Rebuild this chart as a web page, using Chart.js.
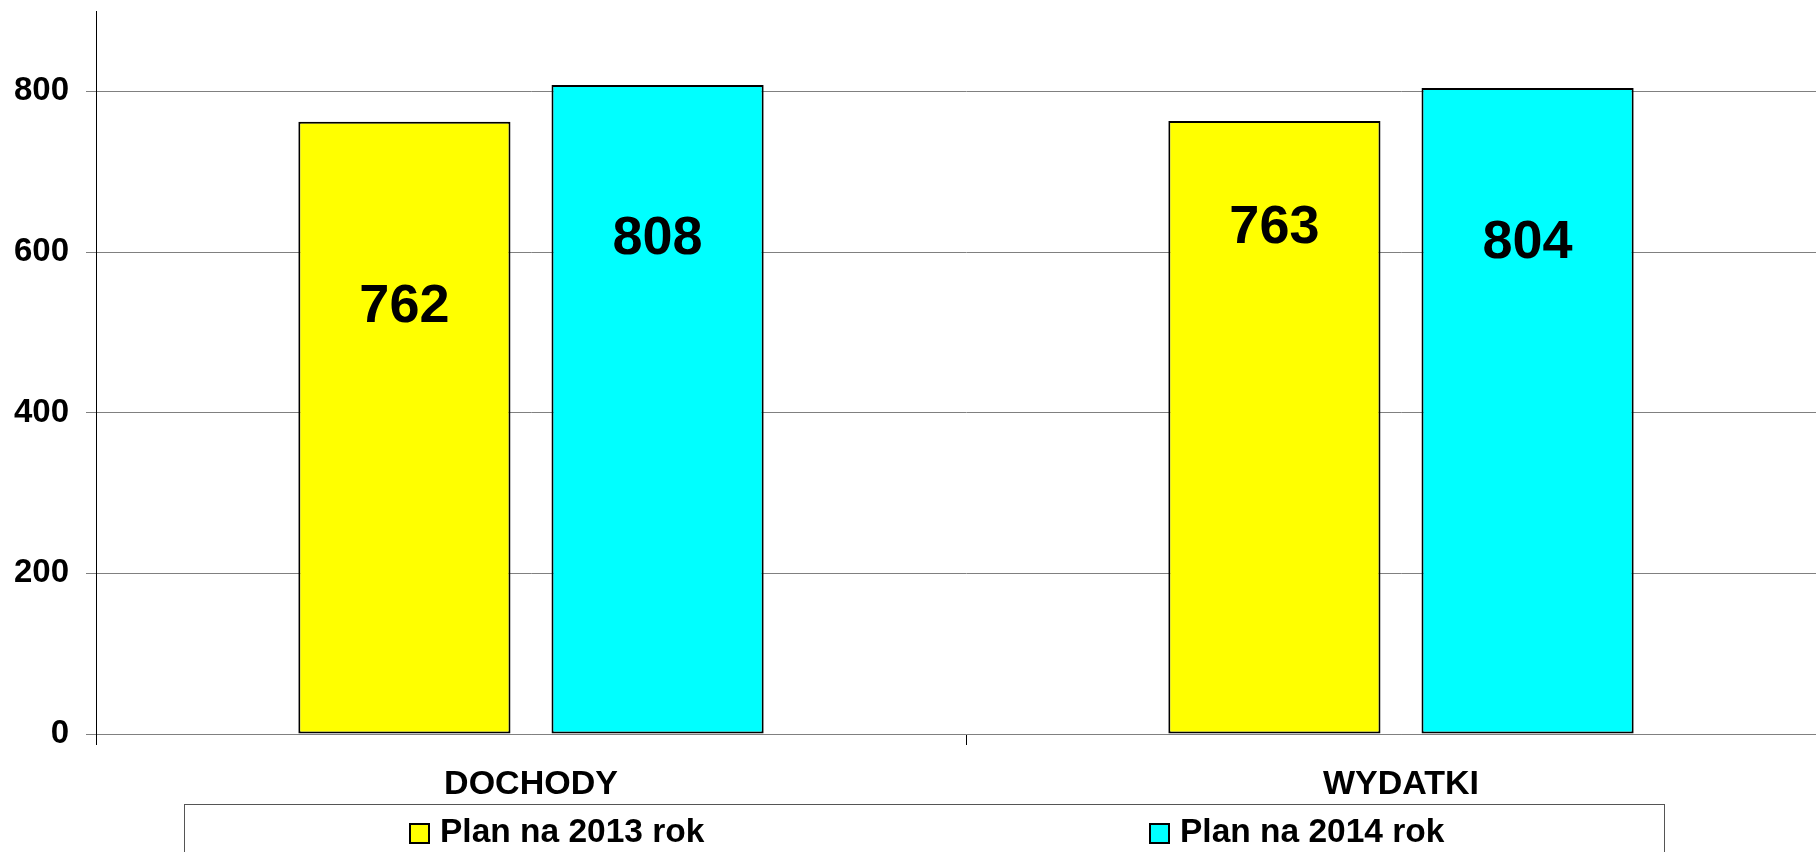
<!DOCTYPE html>
<html>
<head>
<meta charset="utf-8">
<title>Plan 2013 / 2014</title>
<script src="https://cdn.jsdelivr.net/npm/chart.js@4"></script>
<style>
  html, body { margin: 0; padding: 0; background: #fff; overflow: hidden; }
  /* obszar wykresu wychodzi troche poza prawa krawedz, jak w oryginale */
  #ramka { width: 1816px; height: 852px; overflow: hidden; }
  canvas { display: block; }
</style>
</head>
<body>
<div id="ramka"><canvas id="myChart" width="1836" height="852"></canvas></div>
<script>
// Dane wykresu
const kategorie  = ["DOCHODY", "WYDATKI"];
const serie      = ["Plan na 2013 rok", "Plan na 2014 rok"];
const plan2013   = [762, 763];
const plan2014   = [808, 804];
const yTicks     = [0, 200, 400, 600, 800];
const yMax       = 900;

// kolory serii
const kolory = ["#ffff00", "#00ffff"];

// gdzie stoja etykiety wartosci (w jednostkach osi y), tak jak w oryginale
const etykietyNa = [[531, 630], [616, 611]];

Chart.defaults.font.family = "'Liberation Sans', Arial, sans-serif";
Chart.defaults.font.weight = "bold";
Chart.defaults.color = "#000";

// etykiety na slupkach
const wartosciPlugin = {
  id: "wartosci",
  afterDatasetsDraw(chart) {
    const ctx = chart.ctx;
    const y = chart.scales.y;
    ctx.save();
    ctx.font = "bold 54px 'Liberation Sans', Arial, sans-serif";
    ctx.fillStyle = "#000";
    ctx.textAlign = "center";
    ctx.textBaseline = "middle";
    chart.data.datasets.forEach((ds, i) => {
      chart.getDatasetMeta(i).data.forEach((bar, j) => {
        ctx.fillText(String(ds.data[j]), bar.x, y.getPixelForValue(etykietyNa[i][j]));
      });
    });
    ctx.restore();
  }
};

// legenda w ramce pod osia
const legendaPlugin = {
  id: "legenda",
  afterDraw(chart) {
    const ctx = chart.ctx;
    const left = 184, right = 1664, top = 804;
    const half = (right - left) / 2;
    ctx.save();
    ctx.strokeStyle = "#555";
    ctx.lineWidth = 1;
    ctx.strokeRect(left + 0.5, top + 0.5, right - left, chart.height);
    ctx.font = "bold 33.5px 'Liberation Sans', Arial, sans-serif";
    ctx.textBaseline = "middle";
    ctx.textAlign = "left";
    chart.data.datasets.forEach((ds, i) => {
      const x = left + half * i + 226;
      const cy = 833;
      ctx.fillStyle = ds.backgroundColor;
      ctx.fillRect(x, cy - 9, 19, 19);
      ctx.strokeStyle = "#000";
      ctx.lineWidth = 2;
      ctx.strokeRect(x, cy - 9, 19, 19);
      ctx.fillStyle = "#000";
      ctx.fillText(ds.label, x + 30, cy);
    });
    ctx.restore();
  }
};

function rysujWykres() {
  const data = {
    labels: kategorie,
    datasets: [
      { label: serie[0], data: plan2013, backgroundColor: kolory[0] },
      { label: serie[1], data: plan2014, backgroundColor: kolory[1] }
    ]
  };
  data.datasets.forEach(ds => {
    ds.borderColor = "#000";
    ds.borderWidth = 2;
    ds.borderSkipped = false;
    ds.categoryPercentage = 0.582;
    ds.barPercentage = 0.838;
  });

  const config = {
    type: "bar",
    data,
    options: {
      responsive: false,
      animation: false,
      devicePixelRatio: 1,
      layout: { padding: { top: 11, left: 0, right: 0, bottom: 0 } },
      plugins: {
        legend: { display: false },
        tooltip: { enabled: false }
      },
      scales: {
        x: {
          grid: { drawOnChartArea: false, color: "#000", tickLength: 11, offset: true },
          border: { color: "#808080" },
          ticks: { font: { size: 34, weight: "bold" }, padding: 19, color: "#000" },
          afterFit: (s) => { s.height = 118; s.paddingLeft = 0; s.paddingRight = 0; }
        },
        y: {
          min: 0,
          max: yMax,
          grid: { color: "#808080", tickLength: 10 },
          border: { color: "#000" },
          ticks: { font: { size: 33, weight: "bold" }, padding: 17, color: "#000" },
          afterBuildTicks: (s) => { s.ticks = yTicks.map(v => ({ value: v })); },
          afterFit: (s) => { s.width = 96; s.paddingTop = 0; s.paddingBottom = 0; }
        }
      }
    },
    plugins: [wartosciPlugin, legendaPlugin]
  };

  new Chart(document.getElementById("myChart"), config);
}

rysujWykres();
</script>
</body>
</html>
